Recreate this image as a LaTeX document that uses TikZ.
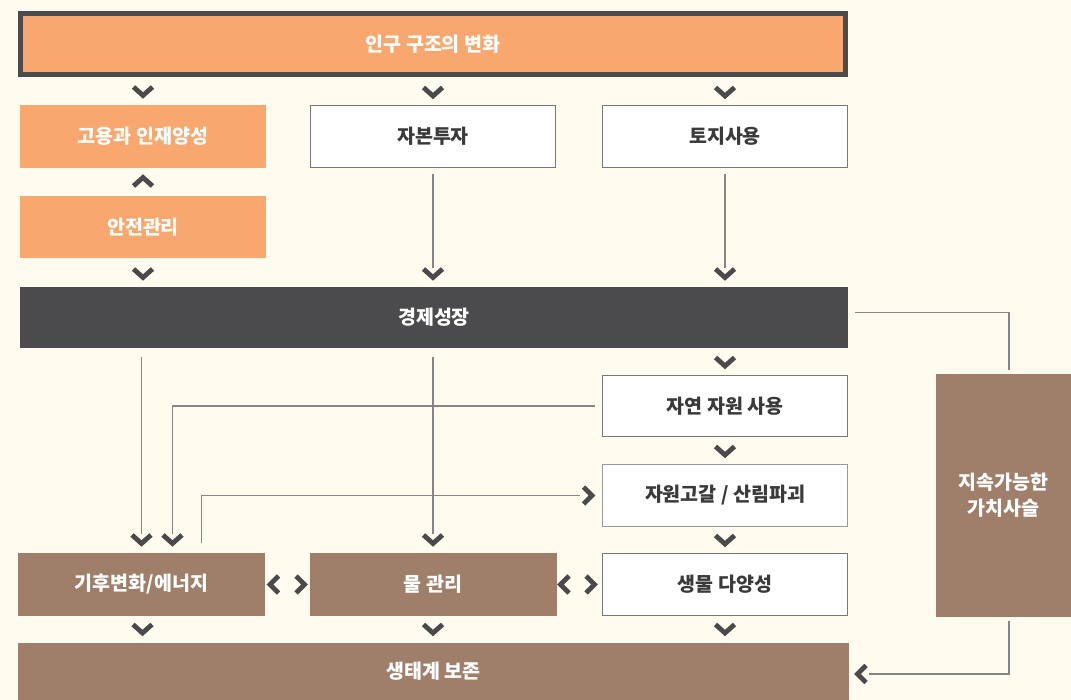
\documentclass[tikz,border=0pt]{standalone}
\usepackage{fontspec}
\setmainfont{Noto Sans CJK KR}
\usetikzlibrary{calc}
\definecolor{bg}{HTML}{FFFCEF}
\definecolor{orangec}{HTML}{F8A86F}
\definecolor{darkc}{HTML}{4B4B4D}
\definecolor{brownc}{HTML}{A07F6A}
\definecolor{linec}{HTML}{858585}
\definecolor{chevc}{HTML}{4A4A4C}
\definecolor{bordc}{HTML}{777777}
\definecolor{bordl}{HTML}{9A9A9A}
\definecolor{txtc}{HTML}{3A3A3A}
\begin{document}
\begin{tikzpicture}[x=1pt,y=-1pt,
  box/.style={inner sep=0pt, outer sep=0pt, align=center, font=\fontsize{19.5}{26}\selectfont\bfseries},
  orangebox/.style={box, fill=orangec, text=white},
  whitebox/.style={box, fill=white, draw=bordc, line width=1.5pt, text=txtc},
  brownbox/.style={box, fill=brownc, text=white},
  darkbox/.style={box, fill=darkc, text=white},
  conn/.style={draw=linec, line width=1.5pt},
  chevline/.style={draw=chevc, line width=4.8pt, line cap=butt, line join=miter},
  chvdown/.pic={\draw[chevline] (-9.5,-4) -- (0,4.5) -- (9.5,-4);},
  chvup/.pic={\draw[chevline] (-9.5,4) -- (0,-4.5) -- (9.5,4);},
  chvleft/.pic={\draw[chevline] (4,-8.5) -- (-4.5,0) -- (4,8.5);},
  chvright/.pic={\draw[chevline] (-4,-8.5) -- (4.5,0) -- (-4,8.5);},
]
\useasboundingbox (0,0) rectangle (1071,700);
\fill[bg] (0,0) rectangle (1071,700);

% nodes
\node[orangebox, draw=darkc, line width=5pt, minimum width=825pt, minimum height=61pt] (pop) at (433,44) {인구 구조의 변화};
\node[orangebox, minimum width=246pt, minimum height=63pt] (emp) at (143,136.5) {고용과 인재양성};
\node[whitebox, minimum width=245pt, minimum height=62pt] (cap) at (433,136.5) {자본투자};
\node[whitebox, minimum width=245pt, minimum height=62pt] (land) at (725,136.5) {토지사용};
\node[orangebox, minimum width=246pt, minimum height=62pt] (safe) at (143,227) {안전관리};
\node[darkbox, minimum width=828pt, minimum height=61pt] (econ) at (434,317.5) {경제성장};
\node[whitebox, minimum width=245pt, minimum height=61pt] (nat) at (725,406) {자연 자원 사용};
\node[whitebox, draw=bordl, minimum width=245pt, minimum height=62pt] (dep) at (725,495.5) {자원고갈 / 산림파괴};
\node[whitebox, minimum width=245pt, minimum height=62pt] (bio) at (725,584.5) {생물 다양성};
\node[brownbox, minimum width=247pt, minimum height=63pt] (clim) at (141.5,584.5) {기후변화/에너지};
\node[brownbox, minimum width=247pt, minimum height=63pt] (water) at (433,584.5) {물 관리};
\node[brownbox, minimum width=831pt, minimum height=58pt] (eco) at (433.5,671.5) {생태계 보존};
\node[brownbox, minimum width=135pt, minimum height=243pt] (sus) at (1003.5,495.5) {지속가능한\\가치사슬};

% pop -> row 2 (chevrons only)
\pic at ([yshift=14pt]emp.north) {chvdown};
\pic at ([yshift=14pt]cap.north) {chvdown};
\pic at ([yshift=14pt]land.north) {chvdown};
% safe -> emp
\pic at ([yshift=14pt]safe.north) {chvup};
% safe -> econ
\pic at ($(safe.south |- econ.north)+(0,-14)$) {chvdown};
% cap -> econ, land -> econ
\draw[conn] ($(cap.south)+(0,7)$) -- ($(cap.south |- econ.north)+(0,-19)$);
\pic at ($(cap.south |- econ.north)+(0,-14)$) {chvdown};
\draw[conn] ($(land.south)+(0,7)$) -- ($(land.south |- econ.north)+(0,-19)$);
\pic at ($(land.south |- econ.north)+(0,-14)$) {chvdown};
% econ -> nat -> dep -> bio
\pic at ([yshift=14pt]nat.north) {chvdown};
\pic at ([yshift=14pt]dep.north) {chvdown};
\pic at ([yshift=14pt]bio.north) {chvdown};
% econ -> clim, econ -> water
\draw[conn] ($(econ.south -| clim.north)+(0,9)$) -- ($(clim.north)+(0,-19)$);
\pic at ($(clim.north)+(0,-14)$) {chvdown};
\draw[conn] ($(econ.south -| water.north)+(0,9)$) -- ($(water.north)+(0,-19)$);
\pic at ($(water.north)+(0,-14)$) {chvdown};
% nat -> clim
\draw[conn] ($(nat.west)+(-8,0)$) -| ($(clim.north)+(31,-19)$);
\pic at ($(clim.north)+(31,-14)$) {chvdown};
% clim -> dep
\draw[conn] ($(clim.north)+(60,-10)$) |- ($(dep.west)+(-23,0)$);
\pic at ($(dep.west)+(-15,0)$) {chvright};
% clim <-> water <-> bio
\pic at ($(clim.east)+(9.5,0)$) {chvleft};
\pic at ($(water.west)+(-9.5,0)$) {chvright};
\pic at ($(water.east)+(8.5,0)$) {chvleft};
\pic at ($(bio.west)+(-12.5,0)$) {chvright};
% row -> eco
\pic at ($(clim.south |- eco.north)+(1,-14)$) {chvdown};
\pic at ($(water.south |- eco.north)+(0,-14)$) {chvdown};
\pic at ($(bio.south |- eco.north)+(0,-14)$) {chvdown};
% econ -> sus -> eco
\draw[conn] ($(econ.east)+(7,-5)$) -| ($(sus.north)+(5.5,-3.5)$);
\draw[conn] ($(sus.south)+(5.5,3.5)$) |- ($(eco.east)+(20,2.5)$);
\pic at ($(eco.east)+(13,2.5)$) {chvleft};
\end{tikzpicture}
\end{document}
